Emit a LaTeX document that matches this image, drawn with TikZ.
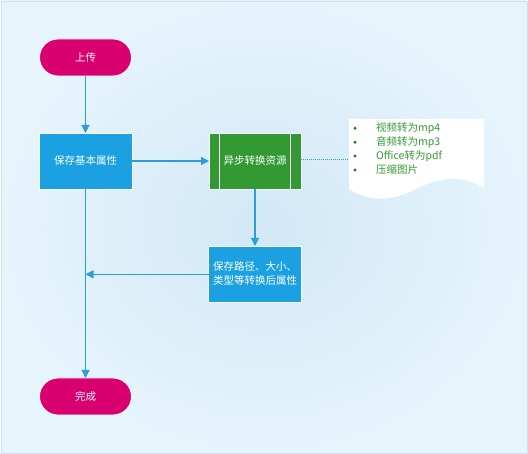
\documentclass[tikz,border=0pt]{standalone}
\usepackage{fontspec}
\setmainfont{Noto Sans CJK SC}
\usetikzlibrary{arrows.meta}
\definecolor{bgin}{HTML}{D2E8F6}
\definecolor{bgout}{HTML}{E6F4FC}
\definecolor{bgedge}{HTML}{CFE2EE}
\definecolor{termc}{HTML}{D9006F}
\definecolor{procc}{HTML}{1BA1E2}
\definecolor{grnc}{HTML}{339933}
\definecolor{bulc}{HTML}{1E7A1E}
\definecolor{connc}{HTML}{2C9FD9}
\tikzset{
  basefont/.style={font=\fontsize{10.5}{14}\selectfont},
  termbox/.style={basefont, draw=white, line width=0.8pt, fill=termc, text=white,
    minimum width=92pt, minimum height=37pt, rounded corners=18.5pt, inner sep=0pt, outer sep=0pt},
  procbox/.style={basefont, draw=white, line width=0.8pt, fill=procc, text=white,
    minimum width=93pt, minimum height=56pt, inner sep=0pt, outer sep=0pt},
  subbox/.style={basefont, draw=white, line width=0.8pt, fill=grnc, text=white,
    minimum width=92pt, minimum height=56pt, inner sep=0pt, outer sep=0pt},
  conn/.style={draw=connc, line width=1.1pt, -{Triangle[length=8pt,width=8pt]}},
  dotline/.style={draw=connc, line width=0.6pt, dash pattern=on 1pt off 1pt},
  doctext/.style={basefont, text=grnc, anchor=west, inner sep=0pt},
}
\begin{document}
\begin{tikzpicture}[x=1pt,y=-1pt]
\fill[white] (0,0) rectangle (528,454);
\shade[inner color=bgin, outer color=bgout, draw=bgedge, line width=0.6pt] (1,1) rectangle (527,453);
\useasboundingbox (0,0) rectangle (528,454);

\node[termbox] (up) at (85.5,57.5) {上传};
\node[procbox] (save) at (85.5,161) {保存基本属性};
\node[subbox] (async) at (255,161) {异步转换资源};
\draw[white, line width=0.8pt] ([xshift=10pt]async.north west) -- ([xshift=10pt]async.south west);
\draw[white, line width=0.8pt] ([xshift=-11pt]async.north east) -- ([xshift=-11pt]async.south east);
\node[procbox, align=left] (path) at (255,274) {保存路径、大小、\\类型等转换后属性};
\node[termbox] (done) at (85.5,396.5) {完成};

% document shape
\fill[white] (349,119) -- (484,119) -- (484,188)
  .. controls (468,178) and (445,174) .. (418,188)
  .. controls (395,200) and (372,204) .. (349,189) -- cycle;
\coordinate (docL) at (349,159.3);
\foreach \yy in {128.3,142.3,156,170} \fill[bulc] (355,\yy) circle (1.6pt);
\node[doctext] (t1) at (376,128.3) {视频转为mp4};
\node[doctext] (t2) at (376,142.3) {音频转为mp3};
\node[doctext] (t3) at (376,156) {Office转为pdf};
\node[doctext] (t4) at (376,170) {压缩图片};

\coordinate (join) at (85.5,274.3);
\draw[conn] (up) -- (save);
\draw[conn] (save.east) -- (async.west);
\draw[dotline] (async.east |- docL) -- (docL);
\draw[conn] (async) -- (path);
\draw[conn] (path.west |- join) -- (join);
\draw[conn] (save) -- (done);
\end{tikzpicture}
\end{document}
